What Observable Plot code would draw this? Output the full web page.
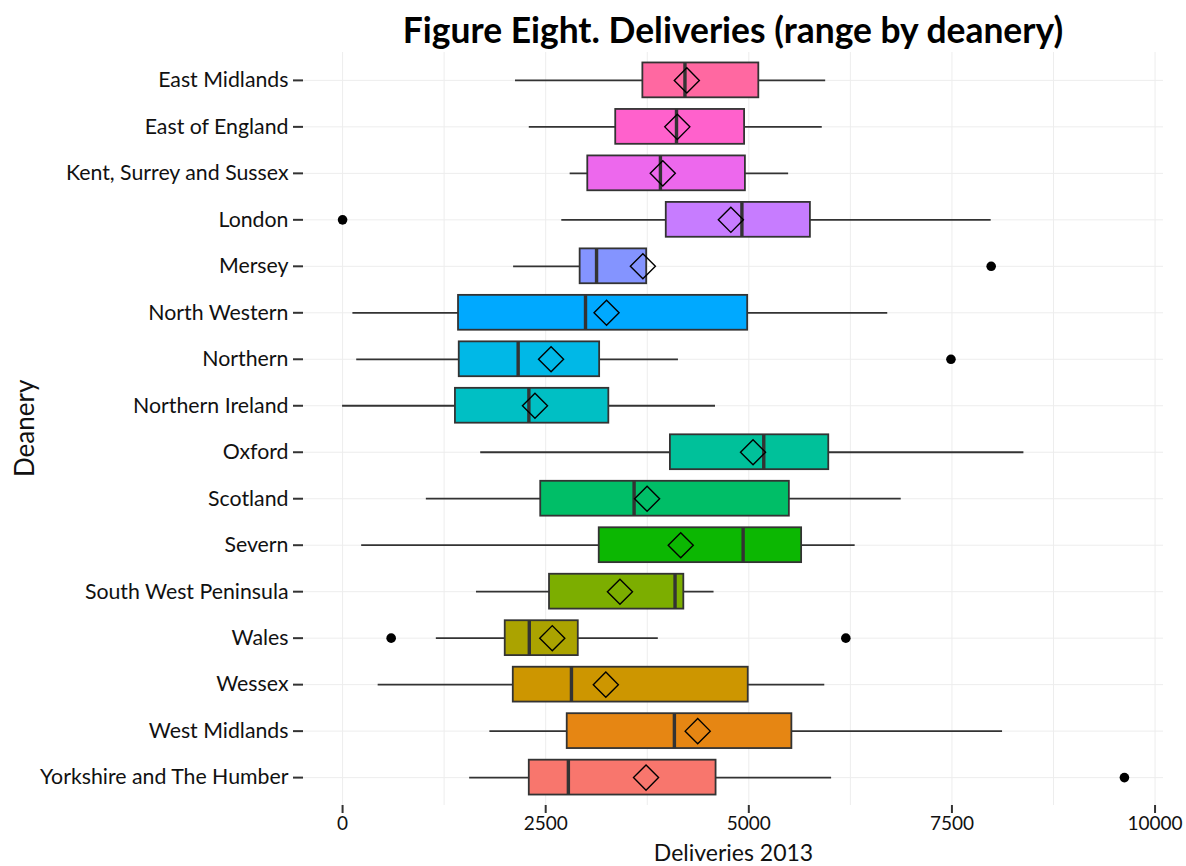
<!DOCTYPE html>
<html>
<head>
<meta charset="utf-8">
<script src="https://cdn.jsdelivr.net/npm/d3@7"></script>
<script src="https://cdn.jsdelivr.net/npm/@observablehq/plot@0.6"></script>
<style>
  html, body { margin: 0; padding: 0; background: #ffffff; }
  #wrap { width: 1186px; height: 866px; position: relative; overflow: hidden; font-family: Lato, "Open Sans", sans-serif; }
  #title { margin-left: 280px; width: 906px; height: 48px; text-align: center; font-weight: bold; font-size: 35.4px; line-height: 35px; box-sizing: border-box; padding-top: 12px; color: #000; white-space: nowrap; }
</style>
</head>
<body>
<div id="wrap">
  <div id="title">Figure Eight. Deliveries (range by deanery)</div>
  <div id="chart"></div>
</div>
<script>
// Categories, top to bottom
const deaneries = [
  "East Midlands", "East of England", "Kent, Surrey and Sussex", "London", "Mersey",
  "North Western", "Northern", "Northern Ireland", "Oxford", "Scotland", "Severn",
  "South West Peninsula", "Wales", "Wessex", "West Midlands", "Yorkshire and The Humber"
];
const whiskerLow  = [2128, 2298, 2801, 2698, 2105,  127,  174,    0, 1700, 1031,  235, 1648, 1154,  438, 1813, 1564];
const q1          = [3696, 3362, 3018, 3984, 2924, 1427, 1436, 1389, 4035, 2439, 3159, 2547, 2002, 2101, 2765, 2298];
const median      = [4214, 4110, 3912, 4915, 3126, 2990, 2161, 2293, 5184, 3588, 4930, 4092, 2298, 2817, 4084, 2779];
const q3          = [5123, 4948, 4958, 5758, 3743, 4986, 3164, 3277, 5984, 5499, 5650, 4200, 2901, 4993, 5530, 4597];
const whiskerHigh = [5946, 5904, 5490, 7983, 3743, 6710, 4134, 4590, 8386, 6876, 6309, 4572, 3886, 5935, 8123, 6019];
const meanValue   = [4237, 4120, 3941, 4779, 3696, 3249, 2566, 2368, 5052, 3748, 4162, 3414, 2581, 3240, 4371, 3735];
const outlierDeanery = ["London", "Mersey", "Northern", "Wales", "Wales", "Yorkshire and The Humber"];
const outlierValue   = [0, 7983, 7488, 598, 6194, 9623];
const fills = ["#FF68A1", "#FF61CC", "#ED68ED", "#C77CFF", "#8494FF", "#00A9FF", "#00B8E7", "#00BFC4",
               "#00C19A", "#00BE67", "#0CB702", "#7CAE00", "#ABA300", "#CD9600", "#E68613", "#F8766D"];
const xTicks = [0, 2500, 5000, 7500, 10000];
const gridTicks = [0, 1250, 2500, 3750, 5000, 6250, 7500, 8750, 10000];

const rows = deaneries.map((d, i) => ({
  deanery: d, lo: whiskerLow[i], q1: q1[i], med: median[i], q3: q3[i], hi: whiskerHigh[i], mean: meanValue[i]
}));
const outliers = outlierDeanery.map((d, i) => ({deanery: d, value: outlierValue[i]}));

const FONT = "Lato, 'Open Sans', sans-serif";

const chart = Plot.plot({
  width: 1186,
  height: 818,
  marginTop: 4,
  marginBottom: 61,
  marginLeft: 303,
  marginRight: 23,
  style: {fontFamily: FONT, background: "#ffffff", color: "#111", overflow: "visible"},
  x: {domain: [-481, 10104]},
  y: {type: "band", domain: deaneries, paddingInner: 0.25, paddingOuter: 0.225, round: false},
  color: {domain: deaneries, range: fills},
  marks: [
    Plot.ruleX(gridTicks, {x: d => d, stroke: "#EDEDED", strokeWidth: 1}),
    Plot.ruleY(deaneries, {y: d => d, stroke: "#EDEDED", strokeWidth: 1}),
    Plot.ruleY(rows, {y: "deanery", x1: "lo", x2: "hi", stroke: "#333333", strokeWidth: 1.8}),
    Plot.barX(rows, {y: "deanery", x1: "q1", x2: "q3", fill: "deanery", stroke: "#333333", strokeWidth: 1.8}),
    Plot.tickX(rows, {y: "deanery", x: "med", stroke: "#333333", strokeWidth: 3.4}),
    Plot.dot(rows, {y: "deanery", x: "mean", symbol: "diamond2", r: 11.3, stroke: "#000", fill: "none", strokeWidth: 1.4}),
    Plot.dot(outliers, {y: "deanery", x: "value", r: 4.8, fill: "#000", stroke: "none"}),
    Plot.axisY({tickSize: 10, tickPadding: 5, fontSize: 21.3, fontFamily: FONT, stroke: "#333", strokeWidth: 2, fill: "#111", label: null}),
    Plot.axisX({ticks: xTicks, tickFormat: "d", tickSize: 8, tickPadding: 3, fontSize: 19, fontFamily: FONT, stroke: "#333", strokeWidth: 2, fill: "#111", label: null}),
    Plot.text(["Deliveries 2013"], {text: d => d, frameAnchor: "bottom", lineAnchor: "bottom", dy: 55.5, fontSize: 23, fontFamily: FONT, fill: "#111"}),
    Plot.text(["Deanery"], {text: d => d, frameAnchor: "left", rotate: -90, dx: -278, dy: 48, fontSize: 26, fontFamily: FONT, fill: "#111"})
  ]
});
document.getElementById("chart").appendChild(chart);
</script>
</body>
</html>
